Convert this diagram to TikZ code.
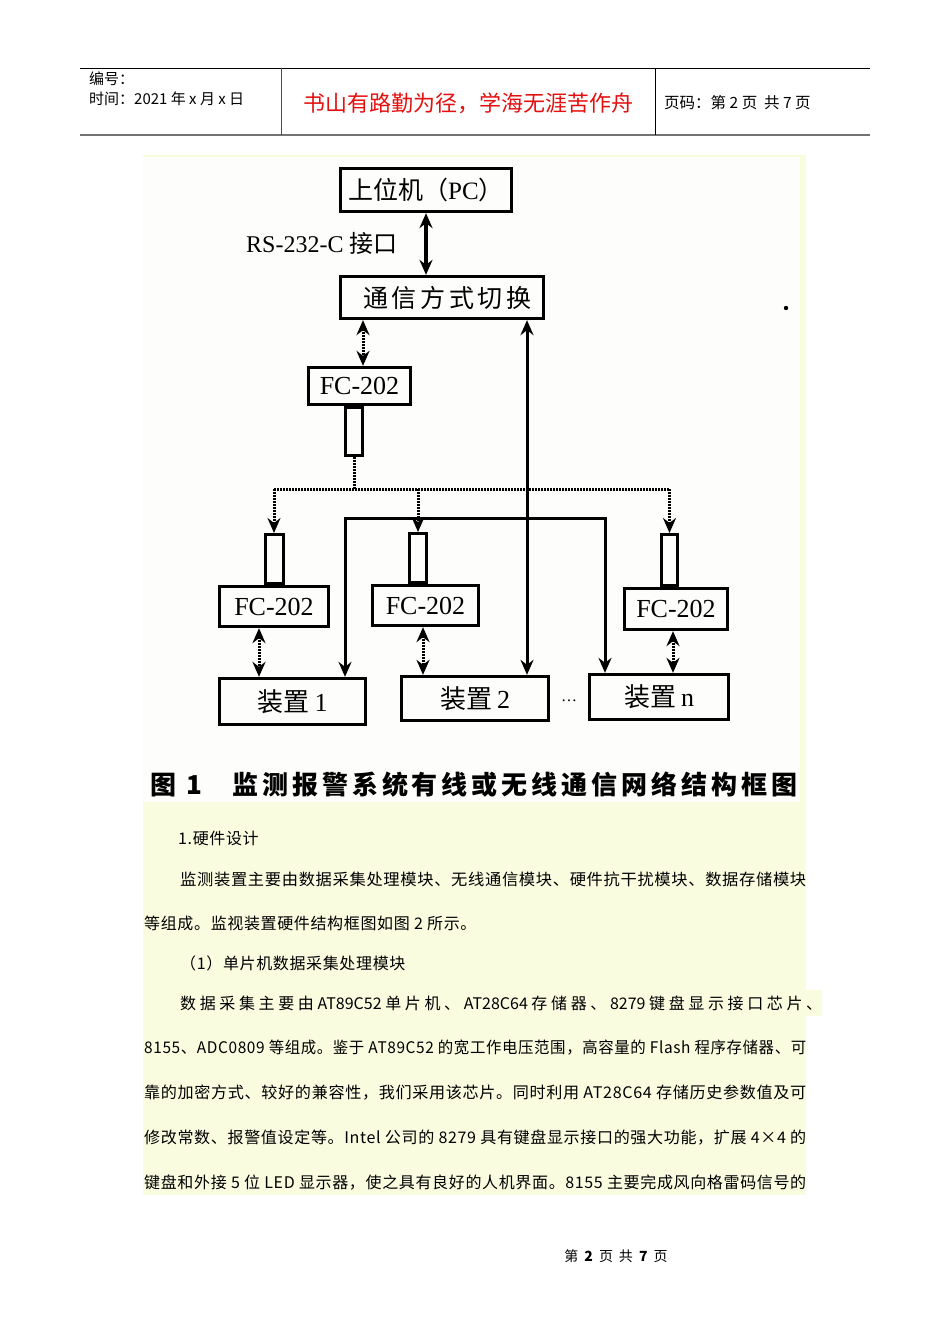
\documentclass[tikz,border=0pt]{standalone}
\usepackage{fontspec}
\usepackage{graphicx}
\setmainfont{Liberation Serif}
\newfontfamily\cjk{Noto Sans CJK SC}
\newfontfamily\cjkbody[LetterSpace=4]{Noto Sans CJK SC}
\usetikzlibrary{arrows.meta}
\definecolor{paleyellow}{RGB}{250,252,224}
\definecolor{imgwhite}{RGB}{253,253,252}
\definecolor{hdrred}{RGB}{228,16,16}
\newcommand{\setfs}[1]{\fontsize{#1}{#1}\selectfont}
\tikzset{
  box/.style={draw=black, line width=3.3pt, inner sep=0pt, fill=imgwhite},
  ant/.style={draw=black, line width=3pt, inner sep=0pt, fill=imgwhite},
  hd/.tip={Stealth[length=15pt,width=13pt,inset=5pt]},
  tip/.style={-hd},
  dtip/.style={hd-hd},
  solidline/.style={line width=3pt},
  dotline/.style={line width=3pt, dash pattern=on 1.5pt off 1.5pt},
  txt/.style={inner sep=0pt, text=black},
}
\begin{document}
\begin{tikzpicture}[x=1pt,y=-1pt]
\useasboundingbox (0,0) rectangle (950,1344);
\fill[white] (0,0) rectangle (950,1344);

% ---------- header ----------
\draw[line width=1pt] (80,68) -- (870,68);
\draw[line width=2pt, black!55] (80,135) -- (870,135);
\draw[line width=1pt, black!70] (281,68) -- (281,135);
\draw[line width=1pt] (655,68) -- (655,135);
\node[txt, anchor=west] (bh) at (89,79) {\cjk\setfs{15}编号：};
\node[txt, anchor=west] (sj) at (89,99) {\cjk\setfs{15}时间：2021 年 x 月 x 日};
\node[txt, text=hdrred] (motto) at (468,103) {\cjk\setfs{22}书山有路勤为径，学海无涯苦作舟};
\node[txt, anchor=west] (ym) at (664,103) {\cjk\setfs{15.5}页码：第 2 页\ \ 共 7 页};

% ---------- backgrounds ----------
\fill[paleyellow] (143,155) rectangle (806,1195);
\fill[paleyellow] (806,990) rectangle (822,1016);
\fill[imgwhite] (143,157) rectangle (800,802);

% ---------- diagram ----------
\node[box, minimum width=171pt, minimum height=43pt] (pc) at (426,190)
  {\setfs{25}{\cjk 上位机（}PC{\cjk ）}};
\node[box, minimum width=203pt, minimum height=42pt] (sw) at (442,297.5)
  {\cjk\setfs{25}\makebox[158pt][s]{通 信 方 式 切 换}};
\node[box, minimum width=102pt, minimum height=37pt] (fc0) at (359.5,386) {\setfs{26}FC-202};
\node[ant, minimum width=17pt, minimum height=48pt] (ant0) at (354,431.5) {};

\node[ant, minimum width=18pt, minimum height=49pt] (ant1) at (274,559) {};
\node[box, minimum width=109pt, minimum height=40pt] (fc1) at (274,606.5) {\setfs{26}FC-202};
\node[ant, minimum width=17pt, minimum height=49pt] (ant2) at (418,558) {};
\node[box, minimum width=106pt, minimum height=40pt] (fc2) at (425.5,605.5) {\setfs{26}FC-202};
\node[ant, minimum width=16pt, minimum height=51pt] (ant3) at (669.5,560) {};
\node[box, minimum width=103pt, minimum height=41pt] (fc3) at (676,609) {\setfs{26}FC-202};

\node[box, minimum width=146pt, minimum height=46pt] (dev1) at (292.5,701.5)
  {\setfs{26}{\cjk 装置}\hspace{5pt}1};
\node[box, minimum width=147pt, minimum height=44pt] (dev2) at (475,698.5)
  {\setfs{26}{\cjk 装置}\hspace{5pt}2};
\node[box, minimum width=139pt, minimum height=45pt] (devn) at (659,697)
  {\setfs{26}{\cjk 装置}\hspace{5pt}n};
\node[txt, anchor=base] (dots) at (569,701) {\setfs{16}\char"2026};

\node[txt, anchor=west] (rs) at (246,243)
  {\setfs{24}RS-232-C\hspace{6pt}{\cjk 接口}};

% coordinates
\coordinate (xa) at (426,0);
\coordinate (xb) at (363,0);
\coordinate (bus) at (0,489);
\coordinate (c2) at (527,518);
\coordinate (b1) at (345,518);
\coordinate (b2) at (605,518);
\coordinate (x1) at (259,0);
\coordinate (x2) at (423,0);
\coordinate (x3) at (673,0);

% solid PC <-> switch
\draw[line width=3.3pt, dtip] (pc.south -| xa) -- (sw.north -| xa);
% dotted switch <-> FC
\draw[dotline, dtip] (sw.south -| xb) -- (fc0.north -| xb);
% dotted bus
\draw[dotline] (ant0.south) -- (ant0.south |- bus);
\draw[dotline] (ant1.north |- bus) -- (ant3.north |- bus);
\draw[dotline, tip] (ant1.north |- bus) -- (ant1.north);
\draw[dotline, tip] (ant2.north |- bus) -- (ant2.north);
\draw[dotline, tip] (ant3.north |- bus) -- (ant3.north);
% solid wired lines
\draw[solidline, dtip] (sw.south -| c2) -- (dev2.north -| c2);
\draw[solidline, dtip] (b1 |- dev1.north) -- (b1) -- (b2) -- (b2 |- devn.north);
% dotted FC <-> device
\draw[dotline, dtip] (fc1.south -| x1) -- (dev1.north -| x1);
\draw[dotline, dtip] (fc2.south -| x2) -- (dev2.north -| x2);
\draw[dotline, dtip] (fc3.south -| x3) -- (devn.north -| x3);

\fill (786,308) circle (2.2pt);

% caption
\node[txt] (fig) at (163,785) {\cjk\bfseries\setfs{26}图};
\node[txt] (fign) at (194,785) {\cjk\bfseries\setfs{26}1};
\node[txt, anchor=west] (cap) at (232,785)
  {\cjk\bfseries\setfs{26}\makebox[561pt][s]{监 测 报 警 系 统 有 线 或 无 线 通 信 网 络 结 构 框 图}};

% ---------- body text ----------
\node[txt, anchor=west] (l1) at (178,838) {\cjkbody\setfs{16}1.硬件设计};
\node[txt, anchor=west] (l2) at (180,879)
  {\resizebox{626pt}{\height}{\cjkbody\setfs{16}监测装置主要由数据采集处理模块、无线通信模块、硬件抗干扰模块、数据存储模块}};
\node[txt, anchor=west] (l3) at (144,923) {\cjkbody\setfs{16}等组成。监视装置硬件结构框图如图 2 所示。};
\node[txt, anchor=west] (l4) at (180,963) {\cjkbody\setfs{16}（1）单片机数据采集处理模块};
\node[txt, anchor=west] (l5) at (180,1003)
  {\cjk\setfs{16}\makebox[642pt][s]{数 据 采 集 主 要 由 AT89C52 单 片 机 、 AT28C64 存 储 器 、 8279 键 盘 显 示 接 口 芯 片 、}};
\node[txt, anchor=west] (l6) at (144,1048)
  {\resizebox{662pt}{\height}{\cjkbody\setfs{16}8155、ADC0809 等组成。鉴于 AT89C52 的宽工作电压范围，高容量的 Flash 程序存储器、可}};
\node[txt, anchor=west] (l7) at (144,1093)
  {\resizebox{662pt}{\height}{\cjkbody\setfs{16}靠的加密方式、较好的兼容性，我们采用该芯片。同时利用 AT28C64 存储历史参数值及可}};
\node[txt, anchor=west] (l8) at (144,1138)
  {\resizebox{662pt}{\height}{\cjkbody\setfs{16}修改常数、报警值设定等。Intel 公司的 8279 具有键盘显示接口的强大功能，扩展 4×4 的}};
\node[txt, anchor=west] (l9) at (144,1183)
  {\resizebox{662pt}{\height}{\cjkbody\setfs{16}键盘和外接 5 位 LED 显示器，使之具有良好的人机界面。8155 主要完成风向格雷码信号的}};

% ---------- footer ----------
\node[txt] (foot) at (616,1256) {\cjk\setfs{14}第\hspace{6pt}\textbf{2}\hspace{6pt}页\hspace{6pt}共\hspace{6pt}\textbf{7}\hspace{6pt}页};
\end{tikzpicture}
\end{document}
